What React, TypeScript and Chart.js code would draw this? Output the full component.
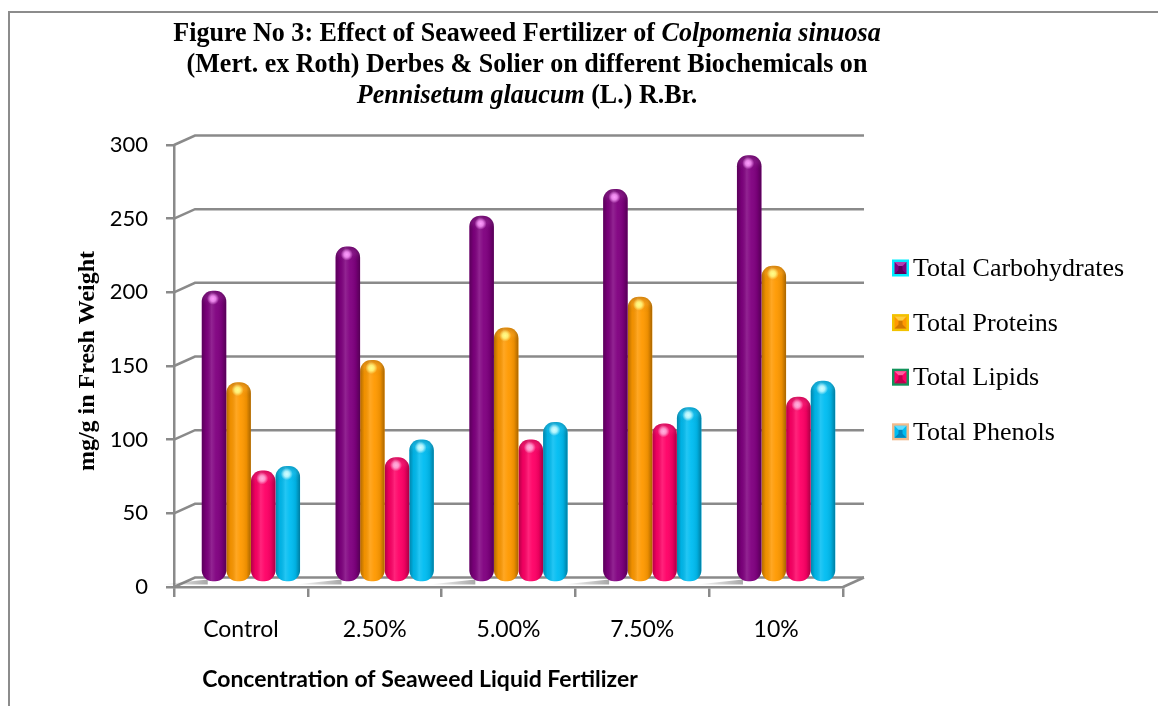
import React, { useEffect, useRef } from "react";
import { Chart, registerables } from "chart.js";

Chart.register(...registerables);

// ---------- data ----------
const categories = ["Control", "2.50%", "5.00%", "7.50%", "10%"];
const seriesNames = ["Total Carbohydrates", "Total Proteins", "Total Lipids", "Total Phenols"];
const carbohydrates = [198, 228, 249, 267, 290];
const proteins = [136, 151, 173, 194, 215];
const lipids = [76, 85, 97, 108, 126];
const phenols = [79, 97, 109, 119, 137];
const yTicks = [0, 50, 100, 150, 200, 250, 300];

const titleLines: { t: string; i: boolean }[][] = [
  [
    { t: "Figure No 3: Effect of Seaweed Fertilizer of ", i: false },
    { t: "Colpomenia sinuosa", i: true },
  ],
  [{ t: "(Mert. ex Roth) Derbes & Solier on different Biochemicals on", i: false }],
  [
    { t: "Pennisetum glaucum", i: true },
    { t: " (L.) R.Br.", i: false },
  ],
];
const yTitle = "mg/g in Fresh Weight";
const xTitle = "Concentration of Seaweed Liquid Fertilizer";

// ---------- layout / style ----------
const W = 1158;
const H = 706;
const DX = 21;
const DY = -9.5;
const BAR_DX = 10;
const BAR_DY = -4.5;
const GRID = "#8a8a8a";

type Palette = { base: string; spot: string; legendBorder: string; legendLight: string; legendDark: string };
const palettes: Palette[] = [
  { base: "#800080", spot: "#ff9cff", legendBorder: "#00eeff", legendLight: "#b040b0", legendDark: "#5a005a" },
  { base: "#ff9900", spot: "#ffff8a", legendBorder: "#f2c200", legendLight: "#ffd040", legendDark: "#d07800" },
  { base: "#ff0066", spot: "#ffb4e0", legendBorder: "#12935a", legendLight: "#ff60a0", legendDark: "#c0004c" },
  { base: "#00bdf2", spot: "#d4ffff", legendBorder: "#f2bb8c", legendLight: "#60dcff", legendDark: "#0088c0" },
];
const seriesValues = [carbohydrates, proteins, lipids, phenols];

function roundRectPath(ctx: CanvasRenderingContext2D, x: number, y: number, w: number, h: number, r: number) {
  const rr = Math.min(r, w / 2, h / 2);
  ctx.beginPath();
  ctx.moveTo(x + rr, y);
  ctx.lineTo(x + w - rr, y);
  ctx.arcTo(x + w, y, x + w, y + rr, rr);
  ctx.lineTo(x + w, y + h - rr);
  ctx.arcTo(x + w, y + h, x + w - rr, y + h, rr);
  ctx.lineTo(x + rr, y + h);
  ctx.arcTo(x, y + h, x, y + h - rr, rr);
  ctx.lineTo(x, y + rr);
  ctx.arcTo(x, y, x + rr, y, rr);
  ctx.closePath();
}

const decor = {
  id: "decor3d",
  beforeDraw(chart: any) {
    const { ctx } = chart;
    ctx.save();
    ctx.fillStyle = "#ffffff";
    ctx.fillRect(0, 0, W, H);
    ctx.strokeStyle = "#8c8c8c";
    ctx.lineWidth = 2;
    ctx.beginPath();
    ctx.moveTo(9, H);
    ctx.lineTo(9, 12);
    ctx.lineTo(W, 12);
    ctx.stroke();
    ctx.restore();
  },
  beforeDatasetsDraw(chart: any) {
    const { ctx, chartArea: a, scales } = chart;
    const ys = scales.y;
    ctx.save();
    ctx.strokeStyle = GRID;
    ctx.lineWidth = 2.5;
    for (const v of yTicks) {
      const py = ys.getPixelForValue(v);
      ctx.beginPath();
      ctx.moveTo(a.left, py);
      ctx.lineTo(a.left + DX, py + DY);
      ctx.lineTo(a.right + DX, py + DY);
      ctx.stroke();
    }
    ctx.beginPath();
    ctx.moveTo(a.right, a.bottom);
    ctx.lineTo(a.right + DX, a.bottom + DY);
    ctx.stroke();
    // floor shadows to the left of each group
    const meta0 = chart.getDatasetMeta(0);
    for (const el of meta0.data) {
      const gl = el.x - el.width / 2 + BAR_DX;
      const g = ctx.createLinearGradient(gl - 40, 0, gl + 6, 0);
      g.addColorStop(0, "rgba(110,110,110,0)");
      g.addColorStop(1, "rgba(110,110,110,0.6)");
      ctx.fillStyle = g;
      ctx.beginPath();
      ctx.moveTo(gl - 40, a.bottom - 2.5);
      ctx.lineTo(gl + 6, a.bottom + DY + 2);
      ctx.lineTo(gl + 6, a.bottom - 2.5);
      ctx.closePath();
      ctx.fill();
    }
    ctx.restore();
    ctx.save();
    ctx.translate(BAR_DX, BAR_DY);
  },
  afterDatasetDraw(chart: any, args: any) {
    const { ctx } = chart;
    const p = palettes[args.index];
    for (const el of args.meta.data) {
      const { x, y, base, width } = el.getProps(["x", "y", "base", "width"], true);
      const left = x - width / 2;
      const top = Math.min(y, base);
      const h = Math.abs(base - y);
      ctx.save();
      roundRectPath(ctx, left, top, width, h, 11);
      ctx.clip();
      const g = ctx.createLinearGradient(left, 0, left + width, 0);
      g.addColorStop(0, "rgba(0,0,0,0.30)");
      g.addColorStop(0.18, "rgba(0,0,0,0.06)");
      g.addColorStop(0.4, "rgba(255,255,255,0.14)");
      g.addColorStop(0.58, "rgba(255,255,255,0.04)");
      g.addColorStop(0.82, "rgba(0,0,0,0.08)");
      g.addColorStop(1, "rgba(0,0,0,0.34)");
      ctx.fillStyle = g;
      ctx.fillRect(left, top, width, h);
      const cg = ctx.createLinearGradient(0, top, 0, top + 16);
      cg.addColorStop(0, "rgba(0,0,0,0.18)");
      cg.addColorStop(0.5, "rgba(255,255,255,0.05)");
      cg.addColorStop(1, "rgba(0,0,0,0)");
      ctx.fillStyle = cg;
      ctx.fillRect(left, top, width, 16);
      const sx = x - 1;
      const sy = top + 8;
      const rg = ctx.createRadialGradient(sx, sy, 0, sx, sy, 6);
      rg.addColorStop(0, p.spot);
      rg.addColorStop(0.45, p.spot + "cc");
      rg.addColorStop(1, p.spot + "00");
      ctx.fillStyle = rg;
      ctx.fillRect(sx - 7, sy - 7, 14, 14);
      ctx.restore();
    }
  },
  afterDatasetsDraw(chart: any) {
    chart.ctx.restore();
  },
  afterDraw(chart: any) {
    const { ctx } = chart;
    ctx.save();
    // title
    const serif = "'Liberation Serif', 'Times New Roman', serif";
    const tSize = 28;
    const tSX = 0.93;
    const baselines = [41, 72, 103];
    const cx = 527;
    titleLines.forEach((line, li) => {
      let total = 0;
      const widths = line.map((seg) => {
        ctx.font = `${seg.i ? "italic " : ""}bold ${tSize}px ${serif}`;
        const w = ctx.measureText(seg.t).width;
        total += w;
        return w;
      });
      ctx.save();
      ctx.translate(cx, baselines[li]);
      ctx.scale(tSX, 1);
      ctx.fillStyle = "#000";
      ctx.textBaseline = "alphabetic";
      ctx.textAlign = "left";
      let xx = -total / 2;
      line.forEach((seg, si) => {
        ctx.font = `${seg.i ? "italic " : ""}bold ${tSize}px ${serif}`;
        ctx.fillText(seg.t, xx, 0);
        xx += widths[si];
      });
      ctx.restore();
    });
    // y title
    ctx.save();
    ctx.translate(88, 361);
    ctx.rotate(-Math.PI / 2);
    ctx.font = `bold 24px ${serif}`;
    ctx.fillStyle = "#000";
    ctx.textAlign = "center";
    ctx.textBaseline = "middle";
    ctx.fillText(yTitle, 0, 0);
    ctx.restore();
    // x title
    ctx.font = "bold 23px Lato, 'Open Sans', sans-serif";
    ctx.fillStyle = "#000";
    ctx.textAlign = "center";
    ctx.textBaseline = "alphabetic";
    ctx.fillText(xTitle, 420, 687);
    // legend
    seriesNames.forEach((name, i) => {
      const p = palettes[i];
      const cy = 268 + i * 54.6;
      const mx = 892;
      const my = cy - 8.5;
      const s = 17;
      ctx.fillStyle = p.legendBorder;
      ctx.fillRect(mx, my, s, s);
      const ix = mx + 2.5;
      const iy = my + 2.5;
      const is = s - 5;
      ctx.fillStyle = p.base;
      ctx.fillRect(ix, iy, is, is);
      const c = { x: ix + is / 2, y: iy + is / 2 };
      const tri = (pts: number[][], col: string) => {
        ctx.fillStyle = col;
        ctx.beginPath();
        ctx.moveTo(pts[0][0], pts[0][1]);
        for (let k = 1; k < pts.length; k++) ctx.lineTo(pts[k][0], pts[k][1]);
        ctx.closePath();
        ctx.fill();
      };
      tri([[ix, iy], [ix + is, iy], [c.x, c.y]], p.legendLight);
      tri([[ix, iy + is], [ix + is, iy + is], [c.x, c.y]], p.legendDark);
      ctx.fillStyle = p.legendDark;
      ctx.fillRect(c.x - 2, c.y - 2, 4, 4);
      ctx.fillStyle = "#000";
      ctx.font = `26px ${serif}`;
      ctx.textAlign = "left";
      ctx.textBaseline = "alphabetic";
      ctx.fillText(name, 913, cy + 8);
    });
    ctx.restore();
  },
};

export default function App() {
  const ref = useRef<HTMLCanvasElement>(null);
  useEffect(() => {
    const canvas = ref.current;
    if (!canvas) return;
    const chart = new Chart(canvas, {
      type: "bar",
      data: {
        labels: categories,
        datasets: seriesValues.map((data, i) => ({
          label: seriesNames[i],
          data,
          backgroundColor: palettes[i].base,
          borderWidth: 0,
          borderRadius: 11,
          borderSkipped: false,
          categoryPercentage: 0.735,
          barPercentage: 1.0,
          clip: false as any,
        })),
      },
      options: {
        responsive: false,
        animation: false,
        devicePixelRatio: 1,
        layout: { padding: { top: 145, right: 315, bottom: 0, left: 0 } },
        plugins: {
          legend: { display: false },
          title: { display: false },
          tooltip: { enabled: false },
        },
        scales: {
          x: {
            type: "category",
            offset: true,
            grid: {
              offset: true,
              drawOnChartArea: false,
              drawTicks: true,
              tickLength: 10,
              color: GRID,
              lineWidth: 2.5,
            },
            border: { display: true, color: GRID, width: 2.5 },
            ticks: {
              color: "#000",
              font: { family: "Lato, 'Open Sans', sans-serif", size: 23 },
              padding: 19,
              maxRotation: 0,
              autoSkip: false,
            },
            afterFit: (s: any) => {
              s.height = 119;
            },
          },
          y: {
            min: 0,
            max: 300,
            ticks: {
              stepSize: 50,
              color: "#000",
              font: { family: "Lato, 'Open Sans', sans-serif", size: 22 },
              padding: 18,
            },
            grid: {
              drawOnChartArea: false,
              drawTicks: true,
              tickLength: 8,
              color: GRID,
              lineWidth: 2.5,
            },
            border: { display: true, color: GRID, width: 2.5 },
            afterFit: (s: any) => {
              s.width = 174;
            },
          },
        },
      },
      plugins: [decor],
    });
    return () => chart.destroy();
  }, []);
  return (
    <div style={{ position: "fixed", left: 0, top: 0, width: W, height: H, background: "#fff" }}>
      <canvas ref={ref} width={W} height={H} style={{ display: "block", width: W, height: H }} />
    </div>
  );
}
